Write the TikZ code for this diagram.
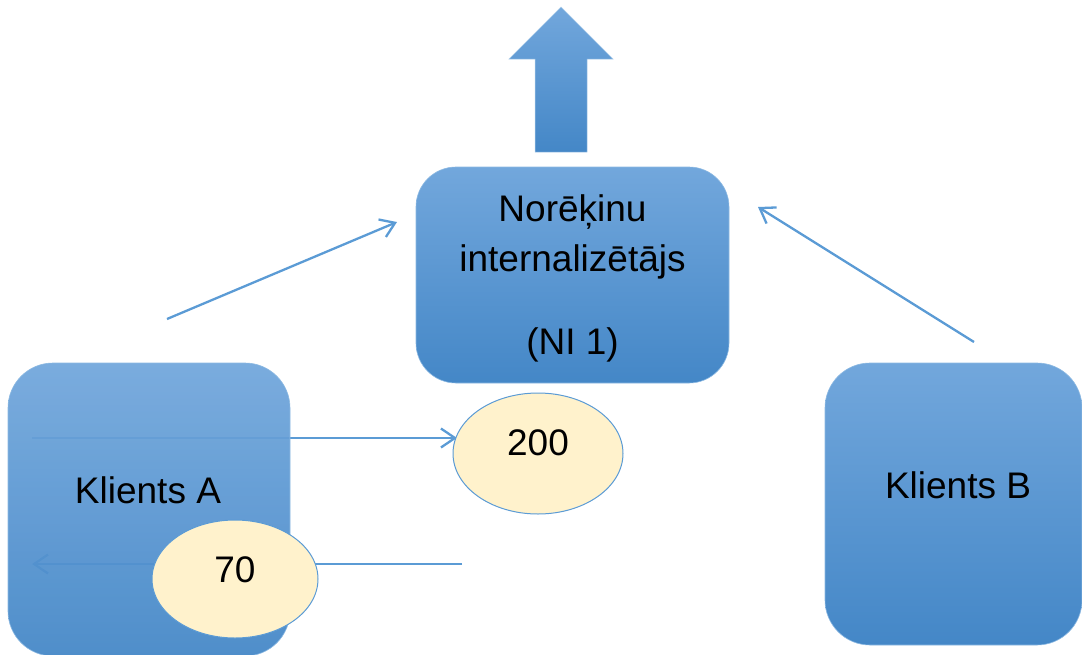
\documentclass[tikz,border=0pt]{standalone}
\usepackage{fontspec}
\setmainfont{Liberation Sans}
\usetikzlibrary{arrows.meta,shapes.geometric}
\definecolor{ln}{HTML}{5B9BD5}
\definecolor{topb}{HTML}{72A7DC}
\definecolor{botb}{HTML}{4487C7}
\definecolor{ell}{HTML}{FFF2CC}
\tikzset{
 client/.style={rectangle, top color=topb, bottom color=botb, draw=ln!70, line width=0.6pt, inner sep=0pt},
 bubble/.style={ellipse, fill=ell, draw=ln, line width=1pt, inner sep=0pt},
 conn/.style={draw=ln, line width=2.3pt, -{Straight Barb[length=14pt,width=19pt,line width=2.3pt]}},
 txt/.style={font=\fontsize{37}{44}\selectfont, inner sep=0pt, text=black},
}
\begin{document}
\begin{tikzpicture}[x=1pt,y=-1pt]
\useasboundingbox (0,0) rectangle (1082,654);
% connectors (behind shapes)
\coordinate (aL) at (167,319);
\coordinate (niL) at (397,222);
\coordinate (aR) at (974,342);
\coordinate (niR) at (758,207);
\coordinate (s200) at (32,438);
\coordinate (e200tip) at (457,438);
\coordinate (s70) at (462,564);
\coordinate (e70tip) at (32,564);
\draw[conn] (aL) -- (niL);
\draw[conn] (aR) -- (niR);
\draw[conn] (s200) -- (e200tip);
\draw[conn] (s70) -- (e70tip);
% boxes
\node[client, rounded corners=45pt, minimum width=282pt, minimum height=293pt, fill opacity=0.94] (ka) at (149,509.5) {};
\node[client, rounded corners=40pt, minimum width=313pt, minimum height=216pt] (ni) at (572.5,275) {};
\node[client, rounded corners=45pt, minimum width=257pt, minimum height=282pt] (kb) at (953.5,504) {};
% up arrow
\shade[top color=topb, bottom color=botb, draw=ln!50, line width=0.5pt]
  (561,7) -- (613,59) -- (587,59) -- (587,152) -- (535,152) -- (535,59) -- (509,59) -- cycle;
% ellipses
\node[bubble, minimum width=170pt, minimum height=121pt] (e200) at (538,453.5) {};
\node[bubble, minimum width=166pt, minimum height=118pt] (e70) at (235,579) {};
% texts
\node[txt] (tka) at (148,490) {Klients A};
\node[txt] (tkb) at (958,485) {Klients B};
\node[txt] (t1) at (572.5,212) {Norēķinu};
\node[txt] (t2) at (572.5,262) {internalizētājs};
\node[txt] (t3) at (572.5,345) {(NI 1)};
\node[txt] (t200) at (538,443) {200};
\node[txt] (t70) at (235,570) {70};
\end{tikzpicture}
\end{document}
